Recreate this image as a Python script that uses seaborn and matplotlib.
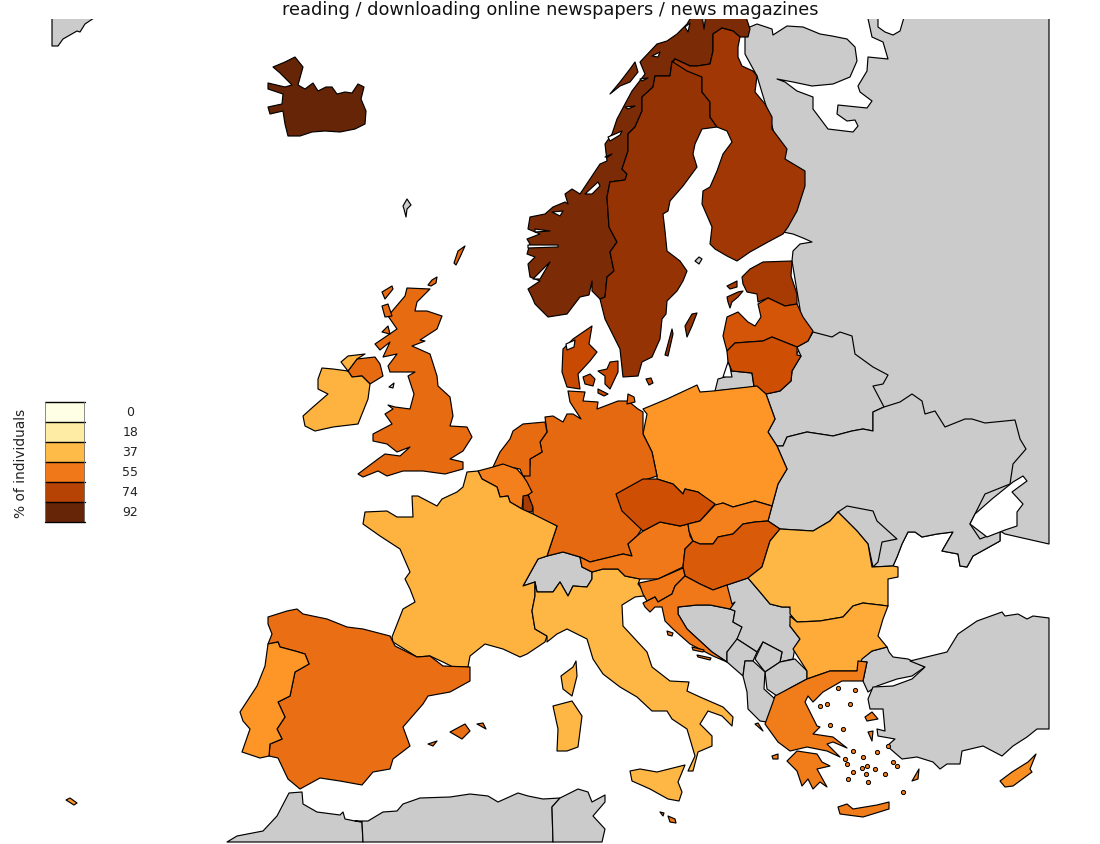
import numpy as np
import matplotlib
matplotlib.use("Agg")
import matplotlib.pyplot as plt
from matplotlib.colors import Normalize
from matplotlib.patches import Rectangle
import seaborn as sns

TITLE = "reading / downloading online newspapers / news magazines"
LEGEND_LABEL = "% of individuals"
LEGEND_VALUES = [0, 18, 37, 55, 74, 92]

# ---- outlines, in the reference's map coordinates --------------------------------
EAST = [(745,30),(757,25),(772,30),(773,36),(787,27),(803,28),(820,35),(832,37),(847,40),(855,48),(857,62),(850,78),(833,85),(812,87),(793,83),(777,80),(785,83),(797,92),(813,98),(813,110),(822,122),(828,130),(853,133),(858,127),(855,121),(847,122),(837,115),(838,106),(867,109),(872,102),(860,93),(858,87),(867,72),(868,58),(888,60),(883,43),(872,38),(867,15),(1049,15),(1049,545),(1027,540),(1005,535),(1000,532),(1000,542),(973,557),(967,568),(960,567),(958,555),(942,552),(953,533),(937,535),(922,538),(915,533),(908,533),(902,545),(897,558),(893,567),(860,575),(800,560),(775,500),(770,420),(765,395),(800,350),(800,310),(792,262),(793,252),(800,245),(812,243),(803,239),(793,235),(783,233),(790,190),(770,120),(757,77),(745,55)]
BELARUS = [(813,333),(832,338),(840,333),(852,337),(855,355),(873,368),(888,376),(883,385),(873,387),(884,408),(873,413),(873,432),(863,430),(852,432),(833,437),(807,433),(787,438),(783,447),(777,447),(768,433),(775,420),(766,395),(780,392),(791,382),(792,372),(801,357),(797,348),(808,342)]
UKRAINE = [(777,447),(783,447),(787,438),(807,433),(833,437),(852,432),(863,430),(873,432),(873,413),(884,408),(900,403),(912,395),(922,402),(925,415),(935,412),(945,428),(965,420),(972,420),(985,424),(1015,421),(1020,440),(1026,450),(1013,465),(1010,485),(985,495),(970,525),(980,540),(1000,532),(1000,542),(973,557),(967,568),(960,567),(958,555),(942,552),(953,533),(937,535),(922,538),(915,533),(908,533),(902,545),(897,558),(893,567),(873,568),(868,545),(857,532),(838,513),(830,522),(813,532),(780,530),(768,522),(772,507),(778,485),(787,470)]
MOLDOVA = [(838,513),(847,507),(873,512),(877,522),(897,540),(882,543),(878,563),(873,568),(868,545),(857,532)]
AZOV = [(1023,477),(1027,482),(1012,493),(1023,505),(1017,513),(1017,527),(1005,531),(987,538),(970,525),(975,515),(992,500),(1013,483)]
WHITE_LAKE = [(878,15),(905,15),(900,32),(893,36),(885,33),(878,28)]
TURKEY_E = [(872,652),(887,648),(889,653),(893,658),(908,660),(925,668),(912,677),(897,680),(877,687),(868,693),(863,682),(867,663),(858,662)]
TURKEY_A = [(910,662),(947,653),(958,635),(977,622),(1002,613),(1005,617),(1018,615),(1027,620),(1033,617),(1049,619),(1049,730),(1037,730),(1027,738),(1013,747),(1002,757),(983,747),(962,752),(960,765),(947,765),(940,770),(933,763),(917,758),(902,760),(887,747),(895,740),(878,737),(877,730),(885,732),(883,710),(870,710),(868,700),(873,688),(893,687),(912,680),(925,668)]
MOROCCO = [(289,794),(302,793),(303,805),(317,813),(340,816),(343,813),(345,820),(355,822),(362,823),(363,843),(227,843),(237,837),(263,832),(277,817)]
ALGERIA = [(355,822),(368,822),(383,813),(397,812),(403,805),(420,799),(450,798),(470,795),(488,797),(498,803),(518,794),(528,797),(543,800),(560,799),(552,808),(553,843),(363,843),(362,823)]
TUNISIA = [(560,799),(578,790),(588,793),(592,803),(605,796),(605,803),(593,817),(605,830),(602,843),(553,843),(552,808)]
GREENLAND = [(52,15),(100,15),(85,25),(80,33),(77,32),(63,40),(58,47),(52,47)]
SWITZERLAND = [(547,557),(563,553),(580,558),(582,568),(592,573),(592,580),(587,588),(573,587),(568,597),(560,583),(553,593),(537,593),(535,583),(523,587),(538,560)]
BOSNIA = [(678,608),(697,606),(710,606),(730,610),(735,612),(733,623),(742,628),(738,640),(727,653),(727,663),(712,653),(687,630),(678,615)]
SERBIA = [(727,586),(748,579),(760,593),(770,605),(782,608),(790,608),(792,617),(790,627),(800,640),(795,648),(793,660),(780,663),(782,653),(763,643),(757,653),(737,640),(742,628),(733,623),(735,612),(730,610)]
MONTENEGRO = [(727,653),(737,640),(757,653),(753,662),(745,662),(743,677),(727,663)]
KOSOVO = [(763,643),(782,653),(780,663),(765,673),(755,660)]
MACEDONIA = [(765,673),(780,663),(795,660),(807,672),(807,680),(792,688),(777,697),(767,690)]
ALBANIA = [(743,677),(745,662),(753,662),(765,673),(764,690),(775,700),(773,707),(767,723),(760,722),(748,710),(747,693)]
FAROE = [(403,207),(407,200),(411,206),(407,210),(406,218),(404,210)]
MAN = [(389,388),(394,384),(393,389)]
KALININGRAD = [(715,392),(718,380),(725,378),(732,372),(752,374),(754,388)]
CURONIAN = [(728,363),(723,378),(732,378),(730,368)]
ALAND = [(695,262),(699,258),(702,260),(699,265)]

ICELAND = [(268,84),(285,88),(292,86),(280,74),(273,68),(285,63),(295,58),(303,68),(298,86),(305,90),(313,84),(318,92),(326,88),(332,88),(337,95),(345,93),(352,94),(358,85),(364,88),(361,100),(366,112),(365,125),(355,130),(340,133),(325,132),(312,133),(300,137),(288,137),(285,125),(283,112),(270,115),(268,108),(282,105),(283,95),(268,90)]
NORWAY = [(748,38),(740,38),(733,32),(722,29),(713,35),(713,52),(710,65),(697,67),(690,67),(675,60),(672,63),(670,77),(655,77),(653,88),(642,98),(642,112),(635,128),(628,135),(628,152),(622,170),(627,175),(625,181),(610,183),(607,198),(609,228),(617,243),(610,253),(614,272),(607,278),(605,298),(600,300),(592,292),(592,282),(589,296),(580,298),(567,315),(548,318),(535,305),(532,298),(528,290),(540,282),(530,278),(528,265),(535,258),(527,255),(530,245),(527,240),(540,235),(528,230),(530,218),(545,215),(553,208),(565,203),(568,205),(565,195),(572,190),(580,195),(590,180),(600,165),(607,162),(605,145),(612,135),(617,120),(625,105),(632,92),(645,75),(640,63),(657,45),(667,42),(677,35),(687,25),(693,15),(745,15),(750,30)]
SENJA = [(610,95),(620,83),(630,70),(635,63),(638,73),(630,83),(620,87)]
FJORDS = [
    [(585,195),(598,183),(600,187),(592,195)],
    [(533,280),(550,263),(540,280)],
    [(528,246),(558,246),(558,248),(528,249)],
    [(535,230),(550,232),(535,233)],
    [(552,213),(563,212),(560,217)],
    [(608,138),(622,132),(620,136),(610,142)],
    [(605,158),(612,155),(608,158)],
    [(625,108),(635,107),(628,110)],
    [(640,80),(648,79),(642,82)],
    [(652,57),(660,53),(658,58)],
    [(702,15),(706,15),(704,30)],
    [(685,28),(690,24),(688,33)],
]
SWEDEN = [(675,60),(690,67),(702,78),(702,93),(710,103),(710,118),(717,128),(702,130),(695,145),(693,155),(697,168),(683,187),(670,202),(668,212),(663,215),(665,232),(667,252),(680,262),(687,272),(683,282),(677,292),(667,302),(666,315),(662,320),(660,340),(652,358),(642,363),(638,377),(623,378),(620,350),(605,320),(600,300),(605,298),(607,278),(614,272),(610,253),(617,243),(609,228),(607,198),(610,183),(625,181),(627,175),(622,170),(628,152),(628,135),(635,128),(642,112),(642,98),(653,88),(655,77),(670,77),(672,63)]
GOTLAND = [(685,327),(692,315),(697,314),(692,327),(687,338)]
OLAND = [(665,356),(672,330),(673,335),(668,357)]
FINLAND = [(675,60),(690,67),(697,67),(710,65),(713,52),(713,35),(722,29),(733,32),(740,38),(738,48),(738,58),(742,67),(753,72),(757,77),(755,93),(765,105),(772,118),(772,130),(778,138),(787,150),(785,160),(805,172),(805,187),(797,212),(788,228),(783,235),(768,243),(750,253),(737,262),(727,257),(715,250),(710,245),(712,228),(702,205),(703,192),(710,188),(717,172),(723,155),(732,143),(727,132),(717,128),(710,118),(710,103),(702,93),(702,78),(687,72),(673,63)]
ESTONIA = [(742,278),(750,270),(763,263),(792,262),(791,277),(797,295),(797,305),(785,307),(768,299),(758,303),(757,295),(747,293),(743,285)]
SAAREMAA = [(727,298),(738,293),(743,292),(738,298),(732,303),(730,309),(728,303)]
HIIUMAA = [(727,287),(737,282),(737,288),(730,290)]
LATVIA = [(723,337),(727,318),(738,313),(748,323),(755,327),(761,318),(758,305),(768,299),(785,307),(797,305),(803,318),(813,332),(808,342),(797,348),(772,338),(763,342),(735,344),(727,352)]
LITHUANIA = [(727,352),(735,344),(763,342),(772,338),(797,348),(797,356),(801,357),(792,372),(791,382),(780,392),(766,395),(754,387),(752,374),(732,372),(728,363)]
POLAND = [(643,410),(667,400),(697,386),(700,393),(713,392),(757,387),(766,395),(775,420),(768,433),(777,447),(787,470),(778,485),(772,507),(755,502),(733,508),(723,504),(715,507),(698,493),(685,490),(683,495),(673,485),(657,480),(657,477),(652,453),(643,435),(647,415)]
GERMANY = [(568,392),(585,393),(583,402),(598,403),(597,410),(618,402),(628,402),(638,410),(643,413),(643,435),(652,453),(657,477),(648,480),(623,493),(617,497),(622,510),(643,528),(637,537),(628,545),(632,557),(623,555),(590,563),(580,558),(563,553),(547,557),(557,527),(533,517),(533,510),(528,495),(532,493),(523,480),(530,467),(530,460),(542,453),(540,443),(547,433),(545,418),(553,417),(563,423),(567,415),(573,415),(581,420),(570,403)]
RUGEN = [(628,395),(634,398),(635,403),(627,405)]
NETHERLANDS = [(545,423),(547,433),(540,443),(542,453),(530,460),(530,477),(523,477),(520,470),(503,467),(493,468),(500,453),(510,440),(513,432),(523,425)]
BELGIUM = [(478,472),(493,468),(503,465),(517,470),(523,477),(527,483),(532,493),(523,500),(522,510),(510,503),(508,497),(500,498),(497,488),(482,480)]
LUXEMBOURG = [(523,497),(528,496),(533,508),(532,513),(523,512)]
FRANCE = [(463,488),(467,473),(478,472),(482,480),(497,488),(500,498),(508,497),(510,503),(522,510),(533,515),(557,527),(547,557),(538,560),(523,587),(535,583),(535,597),(532,612),(535,630),(547,637),(545,643),(527,655),(520,658),(503,650),(485,645),(470,657),(468,668),(453,668),(443,663),(430,657),(417,658),(393,643),(392,638),(403,610),(415,603),(410,590),(405,580),(410,573),(400,550),(380,537),(363,525),(365,513),(387,512),(397,518),(413,518),(412,497),(418,497),(437,507),(442,500),(457,493)]
SPAIN = [(268,618),(287,612),(297,610),(303,615),(327,620),(347,628),(363,630),(390,637),(395,647),(417,658),(430,657),(443,667),(470,668),(470,682),(450,693),(428,697),(423,705),(403,728),(410,747),(393,760),(390,770),(373,773),(362,786),(340,782),(320,779),(300,790),(288,780),(278,759),(269,757),(270,745),(282,740),(277,730),(285,718),(278,703),(290,697),(295,673),(309,665),(305,655),(295,652),(280,648),(278,643),(268,645),(272,635),(268,625)]
MALLORCA = [(450,733),(465,725),(470,732),(462,740)]
MENORCA = [(477,725),(483,724),(486,730)]
IBIZA = [(428,745),(437,742),(433,747)]
ATLANTIC_ISLE = [(66,801),(70,799),(77,804),(74,806)]
PORTUGAL = [(268,645),(278,643),(280,648),(295,652),(305,655),(309,665),(295,673),(290,697),(278,703),(285,718),(277,730),(282,740),(270,745),(269,757),(260,759),(242,753),(250,730),(243,722),(240,713),(257,687),(265,667)]
ITALY = [(535,583),(537,593),(553,593),(560,583),(568,597),(573,587),(587,588),(592,580),(592,573),(603,570),(618,570),(625,577),(640,580),(638,585),(648,598),(643,597),(635,598),(622,606),(623,627),(647,653),(652,668),(670,682),(689,683),(687,692),(700,698),(723,708),(733,718),(732,727),(722,717),(708,712),(700,725),(712,737),(712,747),(698,753),(693,772),(688,772),(695,757),(687,730),(672,720),(667,712),(652,712),(637,698),(620,688),(603,675),(593,660),(587,640),(567,630),(557,635),(547,643),(547,637),(535,630),(532,612),(535,597)]
SICILY = [(630,772),(640,770),(657,773),(685,766),(678,783),(682,793),(679,802),(668,800),(650,790),(632,782)]
SARDINIA = [(553,707),(572,702),(582,717),(578,748),(567,752),(557,752),(558,730)]
CORSICA = [(561,677),(573,668),(576,662),(577,677),(572,697),(563,690)]
MALTA = [(668,817),(675,820),(676,824),(670,823)]
GOZO = [(660,813),(664,814),(663,817)]
AUSTRIA = [(580,558),(590,563),(623,555),(632,557),(628,545),(637,537),(643,532),(660,523),(680,527),(688,525),(690,537),(693,542),(685,550),(683,568),(658,580),(640,580),(625,577),(618,570),(603,570),(592,573),(582,568)]
CZECHIA = [(616,495),(643,480),(657,480),(673,485),(683,495),(685,490),(698,493),(715,505),(700,522),(688,525),(680,527),(660,523),(643,532),(622,512)]
SLOVAKIA = [(715,506),(723,504),(733,508),(755,502),(772,507),(768,522),(755,523),(743,525),(733,535),(718,538),(713,545),(700,545),(693,542),(689,532),(688,525),(700,522)]
HUNGARY = [(693,542),(700,545),(713,545),(718,538),(733,535),(743,525),(755,523),(768,522),(780,530),(770,542),(762,568),(748,579),(727,586),(713,591),(700,585),(685,577),(683,568),(685,550)]
SLOVENIA = [(639,584),(658,580),(683,569),(685,577),(675,587),(672,595),(658,603),(655,598),(647,602),(643,595)]
CROATIA = [(643,604),(655,598),(658,603),(672,595),(675,587),(685,577),(700,585),(713,591),(727,586),(732,605),(735,603),(730,610),(710,606),(697,606),(678,608),(678,615),(687,630),(712,653),(727,663),(713,657),(690,645),(673,630),(665,622),(662,608),(655,608),(650,613),(645,608)]
CROATIA_ISLE_A = [(667,632),(673,634),(672,637),(668,636)]
CROATIA_ISLE_B = [(692,648),(704,651),(703,653),(693,651)]
CROATIA_ISLE_C = [(697,656),(711,659),(710,661),(698,658)]
ROMANIA = [(748,579),(762,568),(770,542),(780,530),(813,532),(830,522),(838,513),(857,532),(868,545),(872,568),(893,567),(898,568),(898,578),(888,580),(888,607),(863,604),(853,607),(843,618),(820,622),(797,623),(790,615),(790,608),(782,608),(770,605),(760,593)]
BULGARIA = [(790,617),(797,623),(820,622),(843,618),(853,607),(863,604),(888,607),(883,620),(878,637),(887,648),(872,652),(862,660),(857,672),(830,672),(807,680),(807,672),(793,650),(800,640),(790,627)]
GREECE = [(858,662),(867,663),(863,682),(842,682),(823,693),(813,703),(808,697),(805,703),(817,727),(820,728),(813,735),(833,738),(847,749),(833,743),(827,745),(840,758),(827,752),(807,748),(790,752),(778,743),(765,725),(773,703),(775,697),(792,688),(807,680),(830,672),(857,672)]
PELOPONNESE = [(787,762),(797,752),(817,755),(822,763),(830,767),(817,770),(827,788),(820,783),(813,790),(808,780),(802,787),(797,772)]
CRETE = [(838,808),(847,805),(853,810),(877,806),(889,803),(889,810),(863,818),(840,815)]
RHODES = [(912,782),(919,770),(918,780)]
LESVOS = [(865,718),(872,713),(878,720),(867,722)]
CHIOS = [(868,733),(873,732),(872,742)]
CORFU = [(755,725),(758,724),(763,732)]
KEFALONIA = [(772,757),(778,755),(778,760),(773,760)]
CYPRUS = [(1000,782),(1012,773),(1028,763),(1036,755),(1030,770),(1032,773),(1013,787),(1005,788)]
GB = [(407,289),(430,290),(417,303),(415,312),(427,312),(442,317),(437,330),(420,341),(425,342),(412,347),(430,355),(437,377),(438,387),(450,398),(453,417),(450,427),(467,428),(472,438),(463,452),(450,460),(463,463),(463,470),(445,475),(423,472),(403,472),(387,477),(378,472),(363,478),(358,475),(378,460),(385,455),(400,457),(410,448),(397,453),(387,445),(373,442),(373,435),(392,425),(385,415),(393,410),(388,406),(395,408),(410,410),(414,395),(408,377),(415,373),(390,373),(388,367),(397,355),(383,358),(390,343),(380,351),(375,345),(397,330),(388,317),(405,297)]
N_IRELAND = [(348,372),(357,360),(375,358),(380,365),(383,377),(370,385),(362,377),(352,378)]
LEWIS = [(382,293),(392,287),(393,290),(385,300)]
SKYE = [(382,307),(388,305),(392,317),(385,318)]
MULL = [(382,333),(388,327),(390,335)]
ORKNEY = [(428,286),(432,281),(437,278),(436,284),(431,287)]
SHETLAND = [(454,264),(458,252),(465,247),(460,258),(456,266)]
IRELAND = [(322,369),(333,370),(348,372),(341,363),(348,357),(365,355),(357,360),(348,372),(352,378),(362,377),(370,385),(368,400),(358,425),(333,428),(315,432),(305,427),(303,417),(313,408),(328,395),(318,390),(318,380)]
JUTLAND = [(592,327),(589,345),(597,353),(590,362),(578,375),(580,390),(567,388),(562,373),(563,350),(573,340)]
ZEALAND = [(598,372),(607,370),(610,363),(618,362),(618,373),(610,390),(605,385),(605,377)]
FUNEN = [(583,378),(590,375),(595,380),(593,387),(585,385)]
LOLLAND = [(598,390),(608,395),(604,397),(598,394)]
BORNHOLM = [(646,380),(651,379),(653,384),(649,386)]
LIMFJORD = [(566,345),(575,341),(574,348),(567,351)]

# value of each coloured country (percent of individuals)
REGIONS = [
    ("Iceland", 92, [ICELAND]),
    ("Norway", 87, [NORWAY, SENJA]),
    ("Sweden", 81, [SWEDEN, GOTLAND, OLAND]),
    ("Finland", 79, [FINLAND]),
    ("Estonia", 77, [ESTONIA, SAAREMAA, HIIUMAA]),
    ("Latvia", 66, [LATVIA]),
    ("Lithuania", 68, [LITHUANIA]),
    ("Denmark", 70, [JUTLAND, ZEALAND, FUNEN, LOLLAND, BORNHOLM]),
    ("Poland", 47, [POLAND]),
    ("Germany", 60, [GERMANY, RUGEN]),
    ("Netherlands", 59, [NETHERLANDS]),
    ("Belgium", 53, [BELGIUM]),
    ("Luxembourg", 77, [LUXEMBOURG]),
    ("France", 39, [FRANCE, CORSICA]),
    ("Spain", 58, [SPAIN, MALLORCA, MENORCA, IBIZA]),
    ("Portugal", 47, [PORTUGAL, ATLANTIC_ISLE]),
    ("Italy", 38, [ITALY, SICILY, SARDINIA]),
    ("Malta", 55, [MALTA, GOZO]),
    ("Austria", 55, [AUSTRIA]),
    ("Czechia", 68, [CZECHIA]),
    ("Slovakia", 53, [SLOVAKIA]),
    ("Hungary", 64, [HUNGARY]),
    ("Slovenia", 55, [SLOVENIA]),
    ("Croatia", 55, [CROATIA, CROATIA_ISLE_A, CROATIA_ISLE_B, CROATIA_ISLE_C]),
    ("Romania", 38, [ROMANIA]),
    ("Bulgaria", 41, [BULGARIA]),
    ("Greece", 54, [GREECE, PELOPONNESE, CRETE, RHODES, LESVOS, CHIOS, CORFU, KEFALONIA]),
    ("Cyprus", 49, [CYPRUS]),
    ("United Kingdom", 59, [GB, N_IRELAND, LEWIS, SKYE, MULL, ORKNEY, SHETLAND]),
    ("Ireland", 39, [IRELAND]),
]
NO_DATA = [EAST, BELARUS, UKRAINE, MOLDOVA, TURKEY_E, TURKEY_A, MOROCCO, ALGERIA, TUNISIA, GREENLAND,
           SWITZERLAND, BOSNIA, SERBIA, MONTENEGRO, KOSOVO, MACEDONIA, ALBANIA, FAROE, MAN, KALININGRAD, ALAND]
WATER = [AZOV, WHITE_LAKE, LIMFJORD, CURONIAN] + FJORDS

ISLET_X = [838,827,820,850,855,830,843,853,863,845,847,853,867,862,866,848,868,875,885,877,888,893,897,903]
ISLET_Y = [689,705,707,705,691,726,730,752,758,760,765,773,767,769,775,780,783,770,775,753,747,763,767,793]
ISLET_VALUE = 54

LAND_GREY = "#cbcbcb"
EDGE = "#000000"

sns.set_theme(style="white", rc={"font.family": "DejaVu Sans"})
cmap = sns.color_palette("YlOrBr", as_cmap=True)
norm = Normalize(vmin=0, vmax=92)

fig = plt.figure(figsize=(11, 8.45), dpi=100, facecolor="white")
ax = fig.add_axes([0, 0, 1, 1])
ax.set_xlim(0, 1100)
ax.set_ylim(845, 0)
ax.axis("off")
clip = Rectangle((0, 20), 1050, 823.5, transform=ax.transData)


def draw(poly, face, z):
    xs, ys = zip(*poly)
    for p in ax.fill(xs, ys, facecolor=face, edgecolor=EDGE, linewidth=0.85, zorder=z, joinstyle="round"):
        p.set_clip_path(clip)


for poly in NO_DATA:
    draw(poly, LAND_GREY, 1)
for name, value, polys in REGIONS:
    for poly in polys:
        draw(poly, cmap(norm(value)), 2)
for poly in WATER:
    draw(poly, "white", 3)

sns.scatterplot(x=ISLET_X, y=ISLET_Y, ax=ax, s=9, color=cmap(norm(ISLET_VALUE)),
                edgecolor=EDGE, linewidth=0.7, zorder=4, legend=False)
ax.set_xlim(0, 1100)
ax.set_ylim(845, 0)
ax.axis("off")

ax.text(550, 10, TITLE, ha="center", va="center", fontsize=12.8, color="#111111")
ax.text(21, 463, LEGEND_LABEL, rotation=90, ha="center", va="center", fontsize=9.9, color="#222222")

cax = fig.add_axes([45 / 1100, 1 - 523 / 845, 40 / 1100, 120 / 845])
sns.heatmap(np.array(LEGEND_VALUES).reshape(-1, 1), ax=cax, cmap=cmap, vmin=0, vmax=92, cbar=False,
            linewidths=0, xticklabels=False, yticklabels=LEGEND_VALUES)
for i in range(len(LEGEND_VALUES) + 1):
    cax.axhline(i, color="black", linewidth=1.0, clip_on=False)
cax.axvline(0, color="#777777", linewidth=1.2)
cax.axvline(1, color="#777777", linewidth=1.2)
cax.set_yticks(np.arange(len(LEGEND_VALUES)) + 0.4, labels=LEGEND_VALUES)
cax.yaxis.tick_right()
cax.tick_params(axis="y", length=0, labelrotation=0, labelsize=9, pad=0)
for lab in cax.get_yticklabels():
    lab.set_ha("center")
    lab.set_x(2.13)
    lab.set_transform(cax.get_yaxis_transform())
    lab.set_color("#222222")

fig.savefig("out.png", dpi=100, facecolor="white")
